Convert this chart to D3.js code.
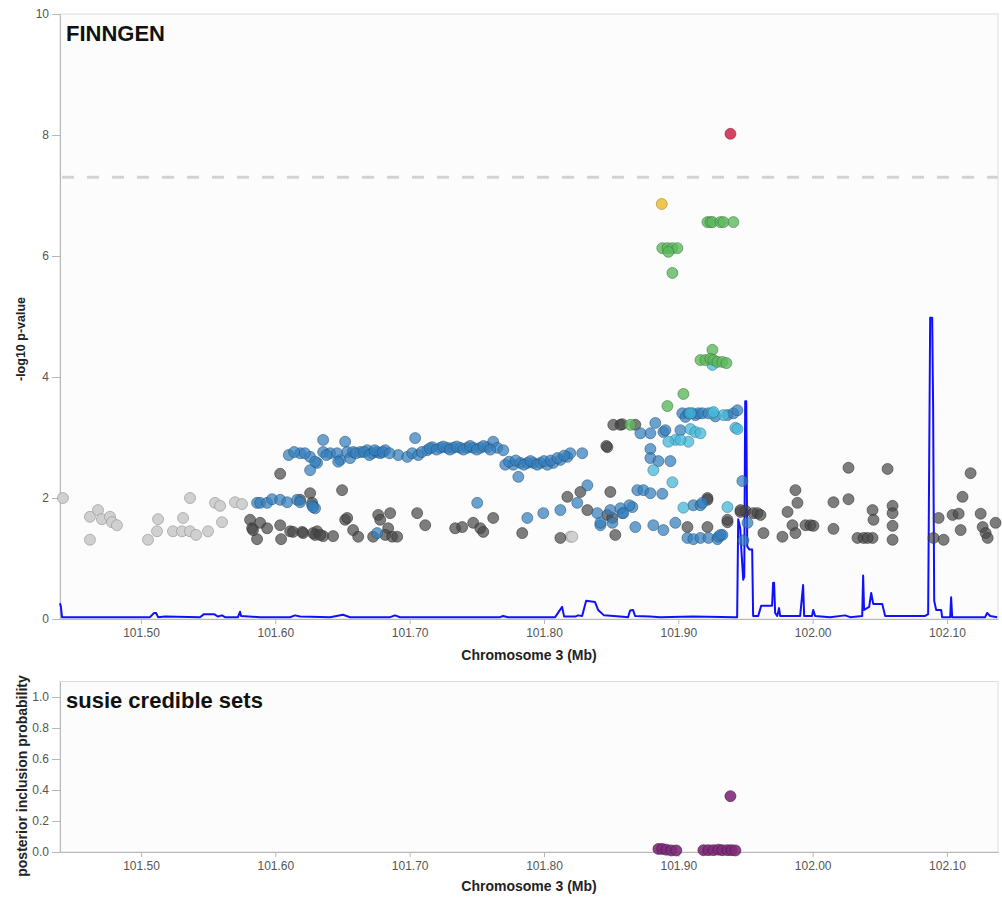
<!DOCTYPE html>
<html lang="en">
<head>
<meta charset="UTF-8">
<title>FINNGEN regional plot</title>
<style>
  body { margin: 0; background: #fff; font-family: 'Liberation Sans', Arial, sans-serif; }
  .axis .tick text { fill: #555; font-size: 12px; font-family: 'Liberation Sans', Arial, sans-serif; }
  .axis path, .axis line { stroke: #b8b8b8; }
  .axis-title { font-weight: bold; font-size: 14px; fill: #222; }
  .panel-title { font-weight: bold; font-size: 22px; fill: #111; }
</style>
</head>
<body>
<svg id="chart" width="1002" height="904"></svg>
<script src="https://cdn.jsdelivr.net/npm/d3@7"></script>
<script>
// x ticks (Mb) and y ticks
const xTicks = [101.5, 101.6, 101.7, 101.8, 101.9, 102.0, 102.1];
const logpTicks = [0, 2, 4, 6, 8, 10];
const pipTicks = [0, 0.2, 0.4, 0.6, 0.8, 1.0];
const sigLine = 7.3;

// SNPs as [position Mb, -log10 p], grouped by LD r2 bin
const snpNoLd = [[101.4419,2.00],[101.4620,1.69],[101.4680,1.80],[101.4709,1.65],[101.4769,1.69],[101.4784,1.60],[101.4821,1.55],[101.4620,1.31],[101.5052,1.31],[101.5119,1.45],[101.5127,1.65],[101.5238,1.45],[101.5305,1.45],[101.5313,1.67],[101.5365,1.45],[101.5365,2.00],[101.5410,1.39],[101.5499,1.45],[101.5551,1.92],[101.5589,1.87],[101.5603,1.60],[101.5700,1.93],[101.5752,1.90],[101.8196,1.36],[101.8211,1.36]];

const snpLd0 = [[101.5812,1.64],[101.5827,1.50],[101.5887,1.59],[101.5939,1.50],[101.5864,1.32],[101.6036,1.55],[101.6043,1.32],[101.6110,1.45],[101.6132,1.44],[101.6199,1.44],[101.6259,2.08],[101.6311,1.45],[101.6296,1.39],[101.6356,1.37],[101.6430,1.37],[101.6497,2.13],[101.6520,1.64],[101.6036,2.40],[101.5834,1.47],
  [101.6185,1.97],[101.6274,1.92],[101.6535,1.67],[101.6579,1.47],[101.6617,1.36],[101.6207,1.42],[101.6281,1.42],[101.6334,1.39],[101.6766,1.72],[101.6781,1.64],[101.6855,1.75],[101.6840,1.50],[101.6818,1.39],[101.6870,1.36],[101.6907,1.36],[101.6728,1.36],[101.7056,1.75],[101.7116,1.55],[101.7339,1.50],[101.7391,1.52],[101.7473,1.59],[101.7526,1.50],[101.7548,1.44],[101.7622,1.67],[101.7838,1.42],[101.8122,1.34],[101.8174,2.02],[101.8271,2.10],[101.8323,1.80],[101.8494,2.10],[101.8472,2.84],[101.8531,1.39],[101.8472,1.72],[101.8509,1.67],[101.8516,3.21],[101.8569,3.21],[101.8680,3.21],
  [101.8464,2.86],[101.8583,3.22],[101.9217,2.00],[101.9366,1.60],[101.9463,1.77],[101.9500,1.79],[101.9559,1.75],[101.9068,1.52],[101.9217,1.52],
  [101.9872,2.13],[101.9887,1.92],[102.0267,2.50],[102.0558,2.48],[102.1176,2.41],[102.0267,1.98],[102.0155,1.93],[102.1116,2.02],[102.0595,1.87],[102.0595,1.75],[102.0446,1.80],[102.0453,1.64],[102.0595,1.54],[102.0595,1.31],[101.9813,1.77],[101.9850,1.55],[101.9872,1.42],[101.9775,1.36],[101.9634,1.42],[101.9589,1.75],[101.9612,1.72],[101.9947,1.55],[101.9984,1.55],[102.0006,1.54],[102.0155,1.49],[102.0334,1.34],[102.0379,1.34],[102.0446,1.34],[102.0409,1.34],[101.9366,1.64],[101.9217,1.97],[102.0938,1.67],[102.1042,1.72],[102.1087,1.74],[102.0900,1.34],[102.0975,1.31],[102.1251,1.74],[102.1266,1.52],[102.1288,1.42],[102.1303,1.34],[102.1362,1.59],[102.1102,1.47],[101.9463,1.80]];

const snpLd2 = [[101.5864,1.92],[101.5887,1.92],[101.5939,1.92],[101.5976,1.98],[101.6036,1.97],[101.6088,1.93],[101.6162,1.97],[101.6185,1.93],[101.6274,1.88],[101.6296,1.83],[101.6259,2.46],[101.6311,2.58],[101.6483,2.63],
  [101.6185,2.74],[101.6259,2.68],[101.6296,2.60],[101.6356,2.96],[101.6356,2.76],[101.6408,2.74],[101.6460,2.74],[101.6468,2.60],[101.6520,2.93],[101.6535,2.76],[101.6557,2.66],[101.6579,2.76],[101.6632,2.76],[101.6684,2.79],[101.6721,2.74],[101.6758,2.76],[101.6781,2.74],[101.6818,2.79],[101.6915,2.71],[101.6982,2.68],[101.7019,2.74],[101.7041,2.99],[101.7064,2.71],[101.7131,2.79],[101.7168,2.84],[101.7228,2.83],[101.7280,2.83],[101.7324,2.83],[101.7377,2.83],[101.7429,2.83],[101.7473,2.83],[101.7526,2.83],[101.7578,2.84],[101.7622,2.93],[101.7652,2.83],[101.7697,2.79],[101.7712,2.55],[101.7771,2.55],[101.7809,2.35],[101.7824,2.58],[101.7876,2.58],[101.7920,2.58],[101.7973,2.58],[101.8025,2.55],[101.8069,2.58],[101.8122,2.63],[101.8174,2.68],[101.8196,2.74],[101.8285,2.74],
  [101.6100,2.71],[101.6140,2.76],[101.6220,2.74],[101.6380,2.71],[101.6600,2.74],[101.6660,2.76],[101.6700,2.71],[101.6740,2.79],[101.6800,2.76],[101.6850,2.74],[101.7090,2.76],[101.7150,2.82],[101.7200,2.80],[101.7250,2.85],[101.7300,2.80],[101.7350,2.85],[101.7400,2.80],[101.7450,2.86],[101.7500,2.80],[101.7550,2.86],[101.7600,2.80],[101.7740,2.60],[101.7790,2.62],[101.7850,2.55],[101.7900,2.61],[101.7950,2.55],[101.8000,2.61],[101.8050,2.62],[101.8100,2.66],[101.8150,2.70],
  [101.6281,1.85],[101.6758,1.42],[101.7503,1.92],[101.7876,1.67],[101.7995,1.75],[101.8122,1.80],[101.8248,1.92],[101.8323,2.21],[101.8397,1.75],[101.8420,1.55],[101.8494,1.80],[101.8583,1.75],[101.8658,1.85],[101.8680,1.52],[101.8695,2.13],[101.8740,2.13],[101.8509,1.59],
  [101.9030,3.40],[101.9053,3.34],[101.9075,3.40],[101.9105,3.40],[101.9127,3.37],[101.9150,3.40],[101.9179,3.40],[101.9224,3.40],[101.9276,3.35],[101.9366,3.37],[101.9410,3.40],[101.9440,3.45],[101.8829,3.24],[101.8792,3.07],[101.8889,3.09],[101.9016,3.12],[101.8718,3.07],[101.8904,3.12],[101.8792,2.81],[101.8792,2.66],[101.8852,2.61],[101.8941,2.61],
  [101.8792,2.08],[101.8881,2.07],[101.9477,2.28],[101.9112,1.88],[101.9165,1.88],[101.8636,1.88],[101.8569,1.83],[101.8591,1.75],[101.8814,1.55],[101.8889,1.47],[101.8978,1.59],[101.9068,1.34],[101.9112,1.32],[101.9165,1.34],[101.9224,1.34],[101.9291,1.32],[101.9328,1.39],[101.8420,1.59],[101.9485,1.30],[101.9515,1.59],[101.9179,1.92],[101.9299,1.36],[101.9314,1.39]];

const snpLd4 = [[101.9090,3.14],[101.9127,3.09],[101.9075,2.93],[101.8978,2.96],[101.8926,2.93],[101.9016,2.96],[101.9425,3.16],[101.9440,3.14],[101.8814,2.46],[101.8956,2.26],[101.9038,1.84],[101.9366,1.85],[101.9165,3.07],[101.9254,4.20],[101.9254,3.40],[101.9336,3.37],[101.9090,3.40],[101.9262,3.42]];

const snpLd6 = [[101.8643,3.21],[101.9038,3.72],[101.8919,3.52],[101.9254,4.45],[101.9165,4.28],[101.9202,4.28],[101.9239,4.30],[101.9262,4.28],[101.9291,4.25],[101.9328,4.25],[101.9358,4.23],
  [101.9217,6.56],[101.9239,6.56],[101.9254,6.56],[101.9314,6.56],[101.9336,6.56],[101.9410,6.56],
  [101.8881,6.13],[101.8919,6.13],[101.8956,6.13],[101.8993,6.13],[101.8926,6.07],[101.8956,5.72]];

const snpLd8 = [[101.8877,6.86]];
const leadSnp = [[101.9388,8.02]];

// recombination rate (cM/Mb)
const recombPos = [101.4397,101.4404,101.4412,101.5067,101.5097,101.5112,101.5127,101.5179,101.5439,101.5469,101.5544,101.5573,101.5603,101.5625,101.5722,101.5737,101.5745,101.5886,101.6109,101.6147,101.6184,101.6407,101.6504,101.6556,101.6854,101.6891,101.6929,101.7673,101.7695,101.7733,101.8083,101.8135,101.8150,101.8232,101.8254,101.8284,101.8314,101.8380,101.8403,101.8447,101.8567,101.8626,101.8641,101.8663,101.8678,101.8790,101.8865,101.9110,101.9423,101.9438,101.9446,101.9461,101.9468,101.9483,101.9491,101.9498,101.9506,101.9513,101.9528,101.9550,101.9557,101.9595,101.9617,101.9698,101.9706,101.9713,101.9721,101.9736,101.9750,101.9758,101.9907,101.9929,101.9937,101.9996,102.0004,102.0019,102.0130,102.0242,102.0279,102.0369,102.0376,102.0383,102.0421,102.0436,102.0451,102.0518,102.0540,102.0838,102.0860,102.0875,102.0890,102.0897,102.0905,102.0920,102.0957,102.0964,102.1024,102.1031,102.1039,102.1284,102.1299,102.1322,102.1374];
const recombRate = [2.6,2.0,0.3,0.3,1.0,1.0,0.3,0.4,0.3,0.8,
  0.8,0.4,0.6,0.3,0.3,1.2,0.5,0.3,0.3,0.6,
  0.4,0.3,0.7,0.3,0.3,0.6,0.3,0.3,0.5,0.3,
  0.3,2.0,0.4,0.4,0.6,0.5,3.0,2.8,1.5,0.6,
  0.4,0.3,1.4,1.5,0.5,0.4,0.3,0.4,0.3,0.3,
  16.5,15,12,6.5,7,36,36,12,11.5,11.5,
  0.5,0.5,2.2,2.2,6,6,1,0.5,1.8,0.5,
  0.5,5.6,0.5,0.5,1.5,0.5,0.3,0.6,0.3,0.5,
  7.2,1.5,2.0,4.3,2.5,2.5,0.5,0.5,0.8,49.8,
  49.8,35,3.0,1.5,1.5,0.3,0.3,3.6,0.3,0.3,
  1.0,0.5,0.3];

// susie credible set: [position Mb, PIP]
const csPip = [[101.8852,0.02],[101.8881,0.02],[101.8911,0.015],[101.8948,0.01],[101.8985,0.01],[101.9187,0.012],[101.9224,0.012],[101.9262,0.012],[101.9299,0.015],[101.9328,0.012],[101.9366,0.012],[101.9396,0.012],[101.9425,0.01],[101.9388,0.36]];

const svg = d3.select('#chart');
const left = 60, right = 998;
const top1 = 14, bottom1 = 619;
const top2 = 681.5, bottom2 = 852;

const x = d3.scaleLinear().domain([101.4397, 102.138]).range([left, right]);
const y = d3.scaleLinear().domain([0, 10]).range([bottom1, top1]);
const yRecomb = d3.scaleLinear().domain([0, 100]).range([bottom1, top1]);
const yPip = d3.scaleLinear().domain([0, 1.1]).range([bottom2, top2]);

// panel backgrounds
svg.append('rect').attr('x', left).attr('y', top1).attr('width', right - left).attr('height', bottom1 - top1)
  .attr('fill', '#fcfcfc').attr('stroke', '#dcdcdc');
svg.append('rect').attr('x', left).attr('y', top2).attr('width', right - left).attr('height', bottom2 - top2)
  .attr('fill', '#fcfcfc').attr('stroke', '#dcdcdc');

// axes
function xAxis(g, yPos) {
  g.attr('class', 'axis').attr('transform', `translate(0,${yPos})`)
    .call(d3.axisBottom(x).tickValues(xTicks).tickFormat(d3.format('.2f')).tickSize(5).tickSizeOuter(0).tickPadding(4));
}
svg.append('g').call(xAxis, bottom1);
svg.append('g').call(xAxis, bottom2);

svg.append('g').attr('class', 'axis').attr('transform', `translate(${left},0)`)
  .call(d3.axisLeft(y).tickValues(logpTicks).tickSize(8).tickSizeOuter(0).tickPadding(3));
svg.append('g').attr('class', 'axis').attr('transform', `translate(${left},0)`)
  .call(d3.axisLeft(yPip).tickValues(pipTicks).tickFormat(d3.format('.1f')).tickSize(8).tickSizeOuter(0).tickPadding(3));

// significance line
svg.append('line')
  .attr('x1', left + 2).attr('x2', right)
  .attr('y1', y(sigLine)).attr('y2', y(sigLine))
  .attr('stroke', '#d2d2d2').attr('stroke-width', 3).attr('stroke-dasharray', '12,13');

// recombination line
const recomb = recombPos.map((p, i) => [p, recombRate[i]]);
svg.append('path')
  .datum(recomb)
  .attr('fill', 'none')
  .attr('stroke', '#1010ff')
  .attr('stroke-width', 2)
  .attr('stroke-linejoin', 'round')
  .attr('d', d3.line().x(d => x(d[0])).y(d => yRecomb(d[1])));

// association points: [data, colour, fill opacity]
const groups = [
  [snpNoLd, '#d0d0d0', 1],
  [snpLd0, '#474747', 0.7],
  [snpLd2, '#357ebd', 0.72],
  [snpLd4, '#46b8da', 0.75],
  [snpLd6, '#5cb85c', 0.8],
  [snpLd8, '#eec03a', 0.9],
  [leadSnp, '#cf2f52', 0.9]
];
groups.forEach(([pts, col, op]) => {
  svg.append('g').selectAll('circle')
    .data(pts)
    .enter()
    .append('circle')
    .attr('cx', d => x(d[0]))
    .attr('cy', d => y(d[1]))
    .attr('r', 5.5)
    .attr('fill', col)
    .attr('fill-opacity', op)
    .attr('stroke', d3.color(col).darker(1.2))
    .attr('stroke-opacity', 0.55)
    .attr('stroke-width', 1);
});

// credible set points
svg.append('g').selectAll('circle')
  .data(csPip)
  .enter()
  .append('circle')
  .attr('cx', d => x(d[0]))
  .attr('cy', d => yPip(d[1]))
  .attr('r', 5.5)
  .attr('fill', '#7d2c79')
  .attr('fill-opacity', 0.9)
  .attr('stroke', '#4a1547')
  .attr('stroke-opacity', 0.6);

// titles
svg.append('text').attr('class', 'panel-title').attr('x', 66).attr('y', 41).text('FINNGEN');
svg.append('text').attr('class', 'panel-title').attr('x', 66).attr('y', 708).text('susie credible sets');

const midX = (left + right) / 2;
svg.append('text').attr('class', 'axis-title').attr('x', midX).attr('y', 660).attr('text-anchor', 'middle').text('Chromosome 3 (Mb)');
svg.append('text').attr('class', 'axis-title').attr('x', midX).attr('y', 891).attr('text-anchor', 'middle').text('Chromosome 3 (Mb)');

svg.append('text').attr('class', 'axis-title')
  .attr('transform', 'translate(25,339) rotate(-90)')
  .attr('text-anchor', 'middle').style('font-size', '12.5px').text('-log10 p-value');
svg.append('text').attr('class', 'axis-title')
  .attr('transform', 'translate(27,776) rotate(-90)')
  .attr('text-anchor', 'middle').text('posterior inclusion probability');
</script>
</body>
</html>
